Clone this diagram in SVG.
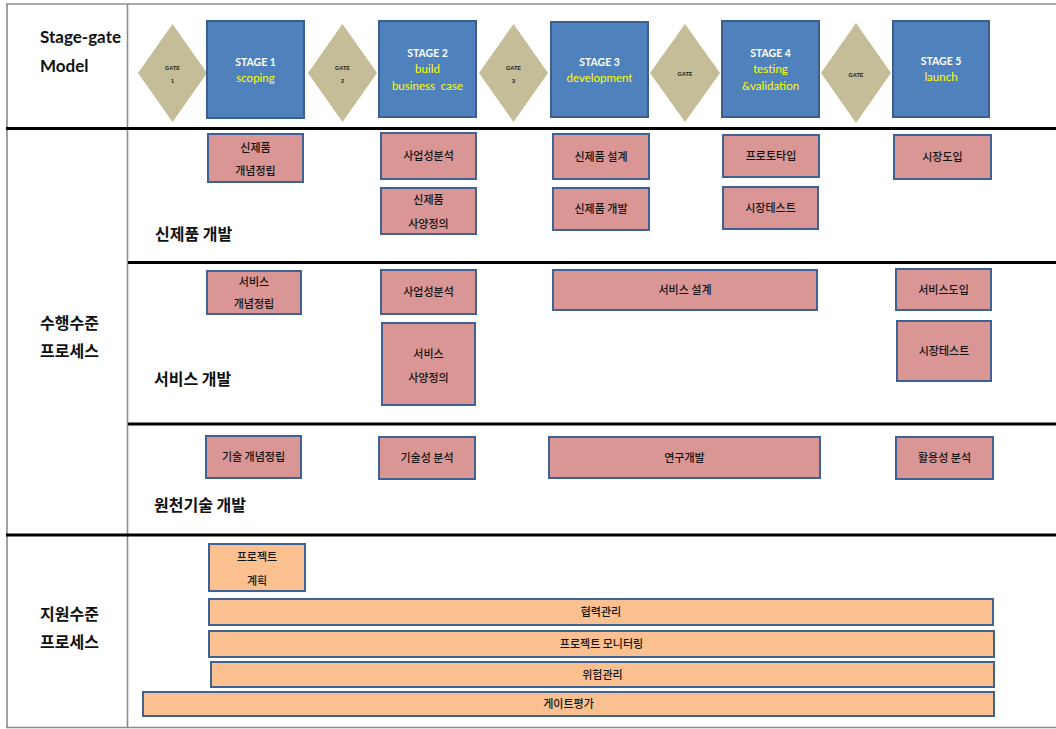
<svg xmlns="http://www.w3.org/2000/svg" width="1056" height="729" viewBox="0 0 1056 729">
  <style>
    .frame { stroke: #8c8c8c; stroke-width: 1.6; fill: none; }
    .rule { stroke: #000; stroke-width: 3; fill: none; }
    .gate { fill: #c4bd97; }
    .stage { fill: #4f81bd; stroke: #3b5e8c; stroke-width: 2; }
    .task { fill: #d99694; stroke: #3d6293; stroke-width: 2; }
    .support { fill: #fac090; stroke: #3d6293; stroke-width: 2; }
    .head { font-family: Lato, "Open Sans", "Noto Sans CJK KR", sans-serif; font-weight: bold; font-size: 17px; fill: #111; }
    .lane { font-family: "Noto Sans CJK KR", sans-serif; font-weight: bold; font-size: 16px; fill: #111; }
    .gtxt { font-family: "Liberation Sans", sans-serif; font-weight: bold; font-size: 5.5px; fill: #222; text-anchor: middle; }
    .st { font-family: Lato, "Open Sans", sans-serif; font-weight: bold; font-size: 10.5px; fill: #fff; text-anchor: middle; }
    .sy { font-family: Lato, "Open Sans", sans-serif; font-size: 11.5px; fill: #ffff00; text-anchor: middle; }
    .bt { font-family: "Noto Sans CJK KR", sans-serif; font-weight: 500; font-size: 11px; fill: #141414; text-anchor: middle; }
  </style>

  <rect width="1056" height="729" fill="#fff"/>

  <!-- table frame -->
  <g id="frame">
    <line class="frame" x1="6" y1="4" x2="1056" y2="4"/>
    <line class="frame" x1="6" y1="727.5" x2="1056" y2="727.5"/>
    <line class="frame" x1="7" y1="4" x2="7" y2="728"/>
    <line class="frame" x1="127.5" y1="4" x2="127.5" y2="728"/>
    <line class="rule" x1="6" y1="128.5" x2="1056" y2="128.5"/>
    <line class="rule" x1="128" y1="262.5" x2="1056" y2="262.5"/>
    <line class="rule" x1="128" y1="424" x2="1056" y2="424"/>
    <line class="rule" x1="6" y1="535" x2="1056" y2="535"/>
  </g>

  <!-- row headings -->
  <g id="headings">
    <text class="head" x="40" y="43">Stage-gate</text>
    <text class="head" x="40" y="72">Model</text>
    <text class="lane" x="40" y="329">수행수준</text>
    <text class="lane" x="40" y="357">프로세스</text>
    <text class="lane" x="40" y="620">지원수준</text>
    <text class="lane" x="40" y="648">프로세스</text>
    <text class="lane" x="155" y="240">신제품 개발</text>
    <text class="lane" x="154" y="385">서비스 개발</text>
    <text class="lane" x="154" y="511">원천기술 개발</text>
  </g>

  <!-- gates -->
  <g id="gate1">
    <polygon class="gate" points="172.5,24 207,73 172.5,122 138,73"/>
    <text class="gtxt" x="172.5" y="70">GATE</text>
    <text class="gtxt" x="172.5" y="83">1</text>
  </g>
  <g id="gate2">
    <polygon class="gate" points="342.5,24 377,73 342.5,122 308,73"/>
    <text class="gtxt" x="342.5" y="70">GATE</text>
    <text class="gtxt" x="342.5" y="83">2</text>
  </g>
  <g id="gate3">
    <polygon class="gate" points="513.5,24 548,73 513.5,122 479,73"/>
    <text class="gtxt" x="513.5" y="70">GATE</text>
    <text class="gtxt" x="513.5" y="83">3</text>
  </g>
  <g id="gate4">
    <polygon class="gate" points="685,24 720,73 685,122 650,73"/>
    <text class="gtxt" x="685" y="76">GATE</text>
  </g>
  <g id="gate5">
    <polygon class="gate" points="856,23 891,73 856,123 821,73"/>
    <text class="gtxt" x="856" y="77">GATE</text>
  </g>

  <!-- stages -->
  <g id="stage1">
    <rect class="stage" x="207" y="21" width="97" height="97"/>
    <text class="st" x="255.5" y="66">STAGE 1</text>
    <text class="sy" x="255.5" y="82">scoping</text>
  </g>
  <g id="stage2">
    <rect class="stage" x="379" y="21" width="97" height="96"/>
    <text class="st" x="427.5" y="57">STAGE 2</text>
    <text class="sy" x="427.5" y="73">build</text>
    <text class="sy" x="427.5" y="90" xml:space="preserve">business  case</text>
  </g>
  <g id="stage3">
    <rect class="stage" x="551" y="22" width="97" height="95"/>
    <text class="st" x="599.5" y="66">STAGE 3</text>
    <text class="sy" x="599.5" y="82">development</text>
  </g>
  <g id="stage4">
    <rect class="stage" x="722" y="21" width="97" height="96"/>
    <text class="st" x="770.5" y="57">STAGE 4</text>
    <text class="sy" x="770.5" y="73">testing</text>
    <text class="sy" x="770.5" y="90">&amp;validation</text>
  </g>
  <g id="stage5">
    <rect class="stage" x="893" y="21" width="96" height="96"/>
    <text class="st" x="941" y="65">STAGE 5</text>
    <text class="sy" x="941" y="81">launch</text>
  </g>

  <!-- new product development -->
  <g id="np-concept">
    <rect class="task" x="208" y="134" width="95" height="48"/>
    <text class="bt" x="255.5" y="152">신제품</text>
    <text class="bt" x="255.5" y="175">개념정립</text>
  </g>
  <g id="np-business">
    <rect class="task" x="381" y="133" width="95" height="46"/>
    <text class="bt" x="428.5" y="160">사업성분석</text>
  </g>
  <g id="np-spec">
    <rect class="task" x="381" y="188" width="95" height="46"/>
    <text class="bt" x="428.5" y="204">신제품</text>
    <text class="bt" x="428.5" y="228">사양정의</text>
  </g>
  <g id="np-design">
    <rect class="task" x="553" y="134" width="96" height="45"/>
    <text class="bt" x="601" y="161">신제품 설계</text>
  </g>
  <g id="np-develop">
    <rect class="task" x="553" y="188" width="96" height="42"/>
    <text class="bt" x="601" y="213">신제품 개발</text>
  </g>
  <g id="np-prototype">
    <rect class="task" x="723" y="135" width="96" height="42"/>
    <text class="bt" x="771" y="160">프로토타입</text>
  </g>
  <g id="np-market-test">
    <rect class="task" x="723" y="187" width="95" height="42"/>
    <text class="bt" x="770.5" y="212">시장테스트</text>
  </g>
  <g id="np-launch">
    <rect class="task" x="894" y="135" width="97" height="44"/>
    <text class="bt" x="942.5" y="161">시장도입</text>
  </g>

  <!-- service development -->
  <g id="sv-concept">
    <rect class="task" x="207" y="271" width="94" height="43"/>
    <text class="bt" x="254" y="286">서비스</text>
    <text class="bt" x="254" y="308">개념정립</text>
  </g>
  <g id="sv-business">
    <rect class="task" x="381" y="270" width="95" height="44"/>
    <text class="bt" x="428.5" y="296">사업성분석</text>
  </g>
  <g id="sv-spec">
    <rect class="task" x="382" y="323" width="93" height="82"/>
    <text class="bt" x="428.5" y="358">서비스</text>
    <text class="bt" x="428.5" y="382">사양정의</text>
  </g>
  <g id="sv-design">
    <rect class="task" x="553" y="270" width="264" height="40"/>
    <text class="bt" x="685" y="294">서비스 설계</text>
  </g>
  <g id="sv-launch">
    <rect class="task" x="896" y="269" width="95" height="41"/>
    <text class="bt" x="943.5" y="294">서비스도입</text>
  </g>
  <g id="sv-market-test">
    <rect class="task" x="897" y="321" width="94" height="60"/>
    <text class="bt" x="944" y="355">시장테스트</text>
  </g>

  <!-- core technology development -->
  <g id="tc-concept">
    <rect class="task" x="206" y="436" width="95" height="42"/>
    <text class="bt" x="253.5" y="461">기술 개념정립</text>
  </g>
  <g id="tc-feasibility">
    <rect class="task" x="379" y="437" width="96" height="42"/>
    <text class="bt" x="427" y="462">기술성 분석</text>
  </g>
  <g id="tc-research">
    <rect class="task" x="549" y="437" width="271" height="41"/>
    <text class="bt" x="684.5" y="462">연구개발</text>
  </g>
  <g id="tc-usability">
    <rect class="task" x="896" y="437" width="97" height="42"/>
    <text class="bt" x="944.5" y="462">활용성 분석</text>
  </g>

  <!-- support processes -->
  <g id="sp-plan">
    <rect class="support" x="209" y="544" width="96" height="47"/>
    <text class="bt" x="257" y="561">프로젝트</text>
    <text class="bt" x="257" y="585">계획</text>
  </g>
  <g id="sp-cooperation">
    <rect class="support" x="209" y="599" width="784" height="26"/>
    <text class="bt" x="601" y="616">협력관리</text>
  </g>
  <g id="sp-monitoring">
    <rect class="support" x="209" y="631" width="785" height="26"/>
    <text class="bt" x="601.5" y="648">프로젝트 모니터링</text>
  </g>
  <g id="sp-risk">
    <rect class="support" x="211" y="662" width="783" height="25"/>
    <text class="bt" x="602.5" y="679">위험관리</text>
  </g>
  <g id="sp-gate-review">
    <rect class="support" x="143" y="692" width="851" height="24"/>
    <text class="bt" x="568.5" y="708">게이트평가</text>
  </g>

  <!-- no connectors in this chart -->
  <g id="connectors"/>
</svg>
